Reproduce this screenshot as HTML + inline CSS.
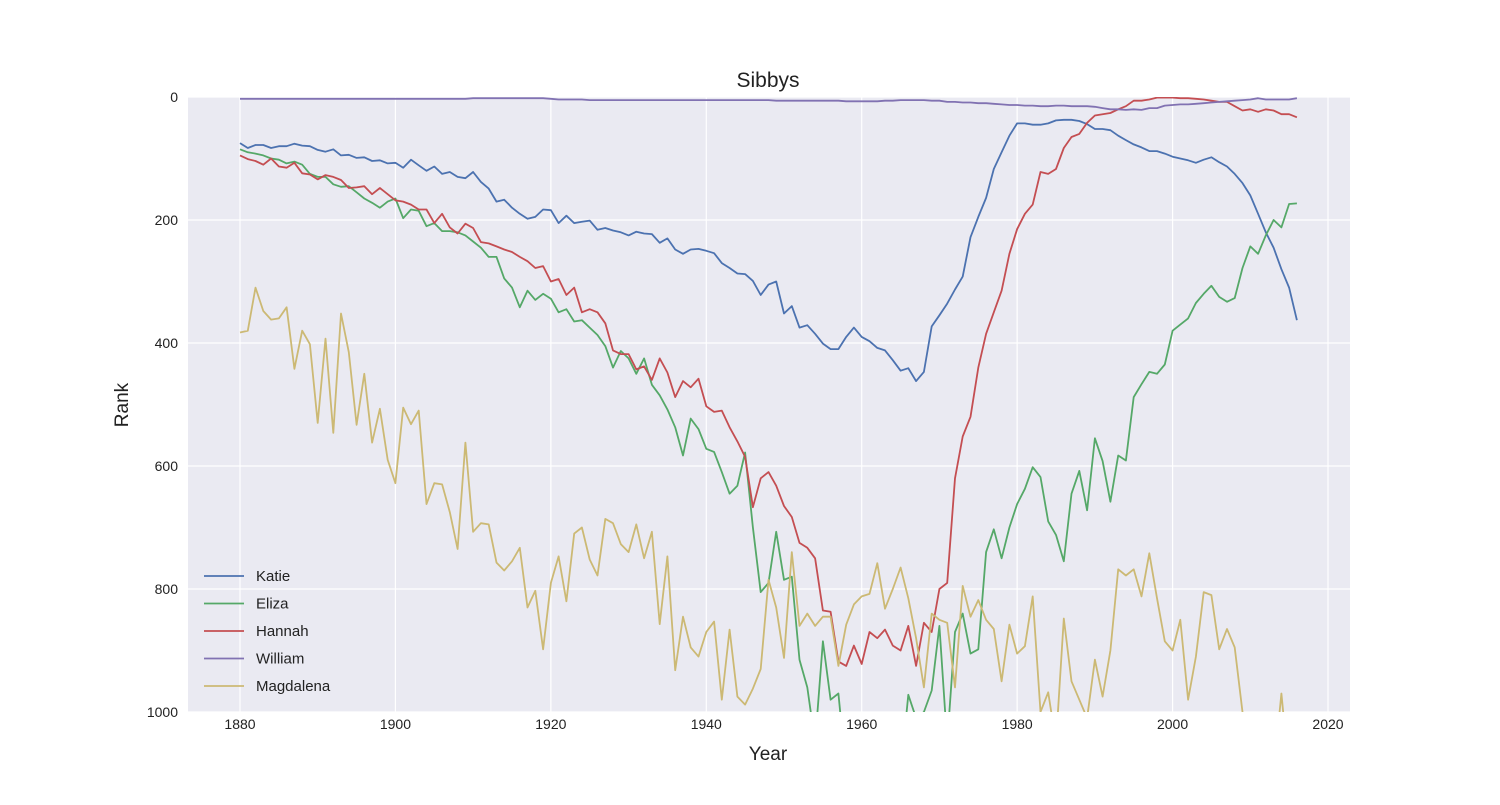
<!DOCTYPE html>
<html><head><meta charset="utf-8"><style>
body{margin:0;background:#fff;width:1500px;height:800px;overflow:hidden;font-family:"Liberation Sans","DejaVu Sans",sans-serif}
</style></head><body>
<svg id="chart" width="1500" height="800" xmlns="http://www.w3.org/2000/svg" font-family="Liberation Sans, DejaVu Sans, sans-serif">
<defs><clipPath id="plotclip"><rect x="188" y="97" width="1162" height="615"/></clipPath></defs>
<rect x="188" y="97" width="1162" height="615" fill="#EAEAF2"/>
<g id="grid"></g>
<g id="lines" clip-path="url(#plotclip)"></g>
<g id="ticks"></g>
<text x="768" y="87" text-anchor="middle" font-size="21" fill="#222">Sibbys</text>
<text x="768" y="760" text-anchor="middle" font-size="19" fill="#222">Year</text>
<text x="128" y="405" text-anchor="middle" font-size="19" fill="#222" transform="rotate(-90 128 405)">Rank</text>
<g id="legend"></g>
</svg>
<script>
const startYear = 1880;
const xTicks = [1880,1900,1920,1940,1960,1980,2000,2020];
const yTicks = [0,200,400,600,800,1000];
const seriesNames = ["Katie","Eliza","Hannah","William","Magdalena"];
const seriesColors = ["#4C72B0","#55A868","#C44E52","#8172B2","#CCB974"];
const katie = [75,83,78,78,83,80,80,76,79,80,86,89,85,95,94,99,98,104,103,108,107,115,102,111,120,113,125,122,130,132,122,138,149,170,167,180,190,198,195,183,184,205,193,205,203,201,216,213,217,220,225,219,222,223,237,230,248,255,248,247,250,254,270,278,287,288,299,322,305,300,352,340,375,371,385,401,410,410,390,375,390,397,408,412,428,445,441,462,447,373,355,336,313,292,228,195,164,117,90,63,43,43,45,45,43,38,37,37,39,44,52,52,54,63,70,77,82,88,88,92,97,100,103,107,102,98,106,113,125,140,160,190,220,245,280,310,363];
const eliza = [85,90,92,95,100,102,108,105,110,125,130,130,142,146,145,155,165,172,180,170,165,197,183,185,210,205,218,218,220,225,235,245,260,260,295,310,342,315,330,320,328,350,345,365,363,375,387,405,440,413,425,450,425,468,485,508,537,583,523,540,572,577,610,645,632,578,700,805,790,707,785,780,915,960,1050,885,980,970,1100,1100,1100,1100,1100,1100,1100,1100,972,1010,1000,965,860,1050,870,840,905,898,740,703,750,700,662,637,602,618,690,712,755,645,608,672,555,592,658,583,591,488,467,447,450,435,380,370,360,335,320,307,325,333,327,278,243,255,225,200,212,174,173];
const hannah = [95,101,104,110,100,113,115,107,124,126,134,127,130,135,148,147,145,158,148,158,168,170,175,183,183,205,190,212,222,206,213,236,238,243,248,252,260,267,278,275,300,296,322,310,350,345,350,368,412,418,418,443,438,460,425,448,488,462,472,458,503,512,510,537,560,585,667,620,610,632,665,683,725,733,750,835,837,918,925,892,922,870,880,866,892,900,860,925,855,870,800,790,620,552,520,440,385,350,315,255,215,190,175,122,125,117,83,65,60,42,30,28,26,20,15,6,6,4,1,1,1,2,2,3,4,6,8,8,15,22,20,24,20,22,28,28,33];
const william = [3,3,3,3,3,3,3,3,3,3,3,3,3,3,3,3,3,3,3,3,3,3,3,3,3,3,3,3,3,3,2,2,2,2,2,2,2,2,2,2,3,4,4,4,4,5,5,5,5,5,5,5,5,5,5,5,5,5,5,5,5,5,5,5,5,5,5,5,5,6,6,6,6,6,6,6,6,6,7,7,7,7,7,6,6,5,5,5,5,6,6,8,8,9,9,10,10,11,12,13,13,14,14,15,15,14,14,15,15,15,16,18,20,20,21,20,21,18,18,14,13,12,12,11,10,9,8,7,6,5,4,2,4,4,4,4,2];
const magdalena = [383,380,310,348,362,360,342,442,380,402,530,393,546,352,415,533,450,562,507,590,628,505,532,510,662,628,630,675,735,562,707,693,695,757,770,755,733,830,803,898,790,747,820,710,700,752,778,686,693,727,740,695,750,707,857,747,932,845,895,910,870,853,980,866,975,988,962,930,785,830,912,740,860,840,860,845,845,925,858,825,812,808,758,832,800,765,815,880,960,840,850,855,960,795,845,818,850,865,950,858,905,893,812,1000,968,1050,848,950,980,1010,915,975,900,768,778,768,812,742,815,885,900,850,980,910,805,810,898,865,895,1000,1100,1100,1100,1100,970,1100,1100];
const seriesData = [katie,eliza,hannah,william,magdalena];

const NS="http://www.w3.org/2000/svg";
const X0=188,X1=1350,Y0=97,Y1=712;
function xScale(yr){return 240+(yr-1880)*(1328-240)/140;}
function yScale(r){return Y0+r*(Y1-Y0)/1000;}
function mk(tag,attrs,parent){const e=document.createElementNS(NS,tag);for(const k in attrs)e.setAttribute(k,attrs[k]);parent.appendChild(e);return e;}
const grid=document.getElementById('grid'),ticks=document.getElementById('ticks'),lines=document.getElementById('lines'),legend=document.getElementById('legend');
xTicks.forEach(t=>{
  const x=xScale(t);
  const g=mk('line',{x1:x,x2:x,y1:Y0,y2:Y1,stroke:'#fff','stroke-width':1.2},grid);
  
  
  const l=mk('text',{x:x,y:729,'text-anchor':'middle','font-size':14,fill:'#222'},ticks);
  l.textContent=t;
  
  
});
yTicks.forEach(t=>{
  const y=yScale(t);
  const g=mk('line',{x1:X0,x2:X1,y1:y,y2:y,stroke:'#fff','stroke-width':1.2},grid);
  
  
  const l=mk('text',{x:178,y:y+5,'text-anchor':'end','font-size':14,fill:'#222'},ticks);
  l.textContent=t;
  
  
});
seriesData.forEach((arr,i)=>{
  const pts=arr.map((v,j)=>xScale(startYear+j).toFixed(1)+','+yScale(v).toFixed(1)).join(' ');
  const p=mk('polyline',{points:pts,fill:'none',stroke:seriesColors[i],'stroke-width':1.8,'stroke-linejoin':'round'},lines);
  
  
  const ly=576+i*27.5;
  const ll=mk('line',{x1:204,x2:244,y1:ly,y2:ly,stroke:seriesColors[i],'stroke-width':1.8},legend);
  
  
  const lt=mk('text',{x:256,y:ly+5,'font-size':15,fill:'#222'},legend);
  lt.textContent=seriesNames[i];
  
  
});
</script>
</body></html>
